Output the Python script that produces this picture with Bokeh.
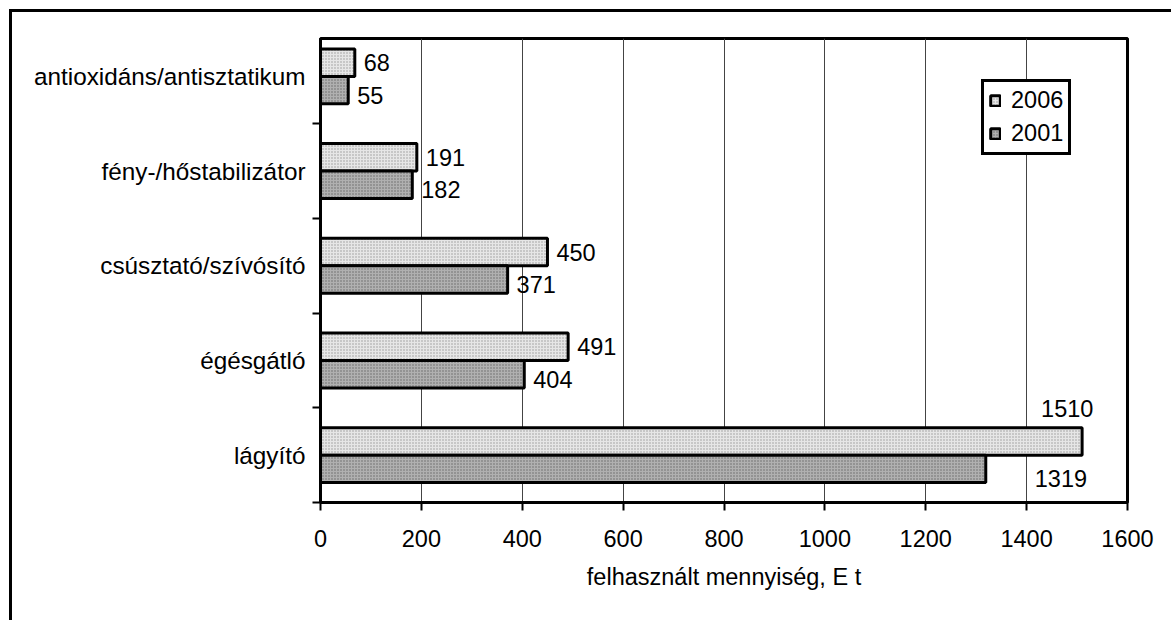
from bokeh.plotting import figure
from bokeh.models import ColumnDataSource, Range1d, FixedTicker, LabelSet, Legend, LegendItem
from bokeh.core.properties import value
from bokeh.embed import file_html
from bokeh.resources import INLINE

# ---- data ----
categories = ["lágyító", "égésgátló", "csúsztató/szívósító",
              "fény-/hőstabilizátor", "antioxidáns/antisztatikum"]
values_2006 = [1510, 491, 450, 191, 68]
values_2001 = [1319, 404, 371, 182, 55]
series_names = ["2006", "2001"]
x_ticks = [0, 200, 400, 600, 800, 1000, 1200, 1400, 1600]
x_title = "felhasznált mennyiség, E t"

# manual label nudges (screen px), like the original's hand-placed labels
lab_dx_2006 = [-41, 9, 9, 9, 9]
lab_dy_2006 = [33, 0, 0, 0, 0]
lab_dx_2001 = [49, 9, 9, 9, 9]
lab_dy_2001 = [-10, -5, -5, -5, -5]

FONT = "Liberation Sans"
FS = "23.5px"
FS_CAT = "24.3px"
BAR_H = 0.29

ypos = list(range(len(categories)))
src06 = ColumnDataSource(dict(y=[v + BAR_H / 2 for v in ypos], x=values_2006,
                              t=[str(v) for v in values_2006], dx=lab_dx_2006, dy=lab_dy_2006))
src01 = ColumnDataSource(dict(y=[v - BAR_H / 2 for v in ypos], x=values_2001,
                              t=[str(v) for v in values_2001], dx=lab_dx_2001, dy=lab_dy_2001))

p = figure(output_backend="svg", toolbar_location=None,
           x_range=Range1d(0, 1600), y_range=Range1d(-0.5, 4.4),
           frame_width=807, frame_height=464,
           min_border_left=308, min_border_top=26, min_border_right=44, min_border_bottom=118)
p.margin = (9, 0, 0, 9)
p.styles = {"border-left": "3px solid #000", "border-top": "3px solid #000"}

r06 = p.hbar(y="y", right="x", left=0, height=BAR_H, source=src06,
             fill_color="#e6e6e6", line_color="black", line_width=3,
             hatch_pattern="dot", hatch_color="#999999", hatch_scale=3, hatch_weight=1)
r01 = p.hbar(y="y", right="x", left=0, height=BAR_H, source=src01,
             fill_color="#b0b0b0", line_color="black", line_width=3,
             hatch_pattern="dot", hatch_color="#666666", hatch_scale=3, hatch_weight=1.2)

for s in (src06, src01):
    p.add_layout(LabelSet(x="x", y="y", text="t", source=s, x_offset="dx", y_offset="dy",
                          text_align="left", text_baseline="middle",
                          text_font=value(FONT), text_font_size=value(FS), text_color="black"))

# axes
xa = p.xaxis[0]
xa.ticker = FixedTicker(ticks=x_ticks)
xa.axis_label = x_title
xa.axis_label_text_font = FONT
xa.axis_label_text_font_size = FS
xa.axis_label_text_font_style = "normal"
xa.axis_label_text_color = "black"
xa.axis_label_standoff = 14
xa.major_label_text_font = FONT
xa.major_label_text_font_size = FS
xa.major_label_text_color = "black"
xa.major_label_standoff = 19
xa.axis_line_color = "black"
xa.axis_line_width = 3
xa.major_tick_line_color = "black"
xa.major_tick_line_width = 2
xa.major_tick_out = 8
xa.major_tick_in = 0
xa.minor_tick_line_color = None

ya = p.yaxis[0]
ya.ticker = FixedTicker(ticks=ypos, minor_ticks=[-0.5, 0.5, 1.5, 2.5, 3.5])
ya.major_label_overrides = {i: c for i, c in enumerate(categories)}
ya.major_label_text_font = FONT
ya.major_label_text_font_size = FS_CAT
ya.major_label_text_color = "black"
ya.major_label_standoff = 7
ya.axis_line_color = "black"
ya.axis_line_width = 3
ya.major_tick_line_color = None
ya.major_tick_out = 0
ya.major_tick_in = 0
ya.minor_tick_line_color = "black"
ya.minor_tick_line_width = 2
ya.minor_tick_out = 8
ya.minor_tick_in = 0

p.xgrid.ticker = FixedTicker(ticks=x_ticks)
p.xgrid.grid_line_color = "#444444"
p.xgrid.grid_line_width = 1
p.ygrid.grid_line_color = None

p.outline_line_color = "black"
p.outline_line_width = 3
p.outline_line_alpha = 1
p.background_fill_color = "white"
p.border_fill_color = "white"

legend = Legend(items=[LegendItem(label=series_names[0], renderers=[r06]),
                       LegendItem(label=series_names[1], renderers=[r01])],
                location=(661, 347))
legend.label_text_font = FONT
legend.label_text_font_size = FS
legend.label_text_color = "black"
legend.label_height = 24
legend.glyph_height = 13
legend.glyph_width = 12
legend.label_standoff = 10
legend.spacing = 6
legend.padding = 5
legend.margin = 0
legend.border_line_color = "black"
legend.border_line_alpha = 1
legend.border_line_width = 3
legend.background_fill_color = "white"
legend.background_fill_alpha = 1
p.add_layout(legend)

open("out.html", "w").write(file_html(p, INLINE))
